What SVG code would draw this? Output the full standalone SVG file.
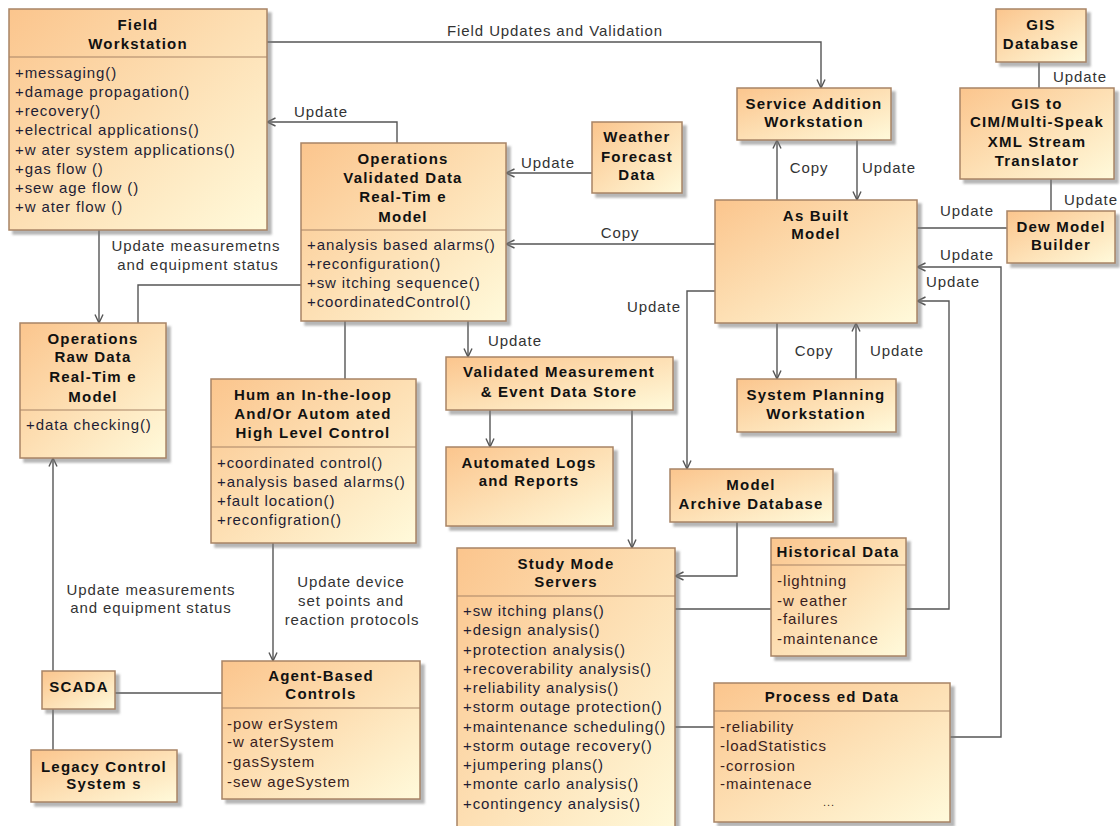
<svg xmlns="http://www.w3.org/2000/svg" width="1120" height="826" viewBox="0 0 1120 826">
<defs>
<linearGradient id="g" x1="0" y1="0" x2="1" y2="1">
<stop offset="0" stop-color="#fbc58d"/>
<stop offset="1" stop-color="#fffadb"/>
</linearGradient>
<filter id="sh" x="-10%" y="-10%" width="130%" height="130%">
<feDropShadow dx="4" dy="4" stdDeviation="1.2" flood-color="#7a7a7a" flood-opacity="0.55"/>
</filter>
<marker id="ar" viewBox="0 0 10 10" refX="9.5" refY="5" markerWidth="10" markerHeight="10" markerUnits="userSpaceOnUse" orient="auto">
<path d="M1,1 L9.5,5 L1,9" fill="none" stroke="#555" stroke-width="1.4"/>
</marker>
<style>
.b{fill:url(#g);stroke:#a88466;stroke-width:1.5;filter:url(#sh)}
.sep{stroke:#a88466;stroke-width:1.2}
.t{font-family:"Liberation Sans",Arial,sans-serif;font-weight:bold;font-size:15px;letter-spacing:1.2px;text-anchor:middle;fill:#111}
.op{font-family:"Liberation Sans",Arial,sans-serif;font-size:15px;letter-spacing:0.9px;fill:#1e1e35}
.at{font-family:"Liberation Sans",Arial,sans-serif;font-size:15px;letter-spacing:0.9px;fill:#3a1e1e}
.lb{font-family:"Liberation Sans",Arial,sans-serif;font-size:15px;letter-spacing:0.9px;fill:#333;text-anchor:middle}
.c{fill:none;stroke:#555;stroke-width:1.4}
.a{marker-end:url(#ar)}
</style>
</defs>
<rect width="1120" height="826" fill="#fff"/>

<g id="connectors">
<path class="c a" d="M267,42 H821 V88"/>
<path class="c a" d="M397,143 V122 H267"/>
<path class="c a" d="M592,173 H506"/>
<path class="c a" d="M715,244 H506"/>
<path class="c a" d="M777,200 V140"/>
<path class="c a" d="M857,140 V200"/>
<path class="c" d="M917,228 H1007"/>
<path class="c" d="M1039,62 V88"/>
<path class="c" d="M1051,179 V211"/>
<path class="c a" d="M950,737 H1001 V267 H917"/>
<path class="c a" d="M906,609 H949 V301 H917"/>
<path class="c a" d="M715,291 H687 V469"/>
<path class="c a" d="M777,323 V379"/>
<path class="c a" d="M856,379 V323"/>
<path class="c" d="M301,285 H138 V323"/>
<path class="c a" d="M99,230 V323"/>
<path class="c" d="M345,321 V379"/>
<path class="c a" d="M468,321 V357"/>
<path class="c a" d="M490,410 V447"/>
<path class="c a" d="M632,410 V548"/>
<path class="c a" d="M737,522 V576 H675"/>
<path class="c" d="M675,609 H771"/>
<path class="c" d="M675,727 H714"/>
<path class="c a" d="M53,671 V458"/>
<path class="c a" d="M273,543 V661"/>
<path class="c" d="M115,693 H222"/>
<path class="c" d="M53,709 V750"/>
<text class="lb" x="555" y="36">Field Updates and Validation</text>
<text class="lb" x="321" y="117">Update</text>
<text class="lb" x="548" y="168">Update</text>
<text class="lb" x="620" y="238">Copy</text>
<text class="lb" x="809" y="173">Copy</text>
<text class="lb" x="889" y="173">Update</text>
<text class="lb" x="967" y="216">Update</text>
<text class="lb" x="1080" y="82">Update</text>
<text class="lb" x="1091" y="205">Update</text>
<text class="lb" x="967" y="260">Update</text>
<text class="lb" x="953" y="287">Update</text>
<text class="lb" x="654" y="312">Update</text>
<text class="lb" x="814" y="356">Copy</text>
<text class="lb" x="897" y="356">Update</text>
<text class="lb" x="196" y="251">Update measuremetns</text>
<text class="lb" x="198" y="270">and equipment status</text>
<text class="lb" x="515" y="346">Update</text>
<text class="lb" x="151" y="595">Update measurements</text>
<text class="lb" x="151" y="613">and equipment status</text>
<text class="lb" x="351" y="587">Update device</text>
<text class="lb" x="351" y="606">set points and</text>
<text class="lb" x="352" y="625">reaction protocols</text>
</g>

<g id="field-workstation">
<rect class="b" x="9" y="9" width="258" height="221"/>
<line class="sep" x1="9" y1="57" x2="267" y2="57"/>
<text class="t" x="138" y="30">Field</text>
<text class="t" x="138" y="49">Workstation</text>
<text class="op" x="15" y="78">+messaging()</text>
<text class="op" x="15" y="97">+damage propagation()</text>
<text class="op" x="15" y="116">+recovery()</text>
<text class="op" x="15" y="135">+electrical applications()</text>
<text class="op" x="15" y="155">+w ater system applications()</text>
<text class="op" x="15" y="174">+gas flow ()</text>
<text class="op" x="15" y="193">+sew age flow ()</text>
<text class="op" x="15" y="212">+w ater flow ()</text>
</g>

<g id="ops-validated">
<rect class="b" x="301" y="143" width="205" height="178"/>
<line class="sep" x1="301" y1="230" x2="506" y2="230"/>
<text class="t" x="403" y="164">Operations</text>
<text class="t" x="403" y="183">Validated Data</text>
<text class="t" x="403" y="202">Real-Tim e</text>
<text class="t" x="403" y="222">Model</text>
<text class="op" x="307" y="250">+analysis based alarms()</text>
<text class="op" x="307" y="269">+reconfiguration()</text>
<text class="op" x="307" y="288">+sw itching sequence()</text>
<text class="op" x="307" y="307">+coordinatedControl()</text>
</g>

<g id="weather">
<rect class="b" x="592" y="122" width="90" height="71"/>
<text class="t" x="637" y="142">Weather</text>
<text class="t" x="637" y="162">Forecast</text>
<text class="t" x="637" y="180">Data</text>
</g>

<g id="service-addition">
<rect class="b" x="737" y="88" width="154" height="52"/>
<text class="t" x="814" y="109">Service Addition</text>
<text class="t" x="814" y="127">Workstation</text>
</g>

<g id="gis-database">
<rect class="b" x="996" y="9" width="90" height="53"/>
<text class="t" x="1041" y="30">GIS</text>
<text class="t" x="1041" y="49">Database</text>
</g>

<g id="gis-translator">
<rect class="b" x="960" y="88" width="154" height="91"/>
<text class="t" x="1037" y="109">GIS to</text>
<text class="t" x="1037" y="127">CIM/Multi-Speak</text>
<text class="t" x="1037" y="147">XML Stream</text>
<text class="t" x="1037" y="166">Translator</text>
</g>

<g id="dew-model-builder">
<rect class="b" x="1007" y="211" width="108" height="52"/>
<text class="t" x="1061" y="232">Dew Model</text>
<text class="t" x="1061" y="250">Builder</text>
</g>

<g id="as-built-model">
<rect class="b" x="715" y="200" width="202" height="123"/>
<text class="t" x="816" y="221">As Built</text>
<text class="t" x="816" y="239">Model</text>
</g>

<g id="system-planning">
<rect class="b" x="737" y="379" width="159" height="53"/>
<text class="t" x="816" y="400">System Planning</text>
<text class="t" x="816" y="419">Workstation</text>
</g>

<g id="ops-raw">
<rect class="b" x="20" y="323" width="146" height="135"/>
<line class="sep" x1="20" y1="410" x2="166" y2="410"/>
<text class="t" x="93" y="344">Operations</text>
<text class="t" x="93" y="362">Raw Data</text>
<text class="t" x="93" y="382">Real-Tim e</text>
<text class="t" x="93" y="402">Model</text>
<text class="op" x="26" y="430">+data checking()</text>
</g>

<g id="human-in-loop">
<rect class="b" x="211" y="379" width="205" height="164"/>
<line class="sep" x1="211" y1="447" x2="416" y2="447"/>
<text class="t" x="313" y="400">Hum an In-the-loop</text>
<text class="t" x="313" y="419">And/Or Autom ated</text>
<text class="t" x="313" y="438">High Level Control</text>
<text class="op" x="217" y="468">+coordinated control()</text>
<text class="op" x="217" y="487">+analysis based alarms()</text>
<text class="op" x="217" y="506">+fault location()</text>
<text class="op" x="217" y="525">+reconfigration()</text>
</g>

<g id="validated-store">
<rect class="b" x="446" y="357" width="227" height="53"/>
<text class="t" x="559" y="377">Validated Measurement</text>
<text class="t" x="559" y="397">&amp; Event Data Store</text>
</g>

<g id="automated-logs">
<rect class="b" x="446" y="447" width="167" height="79"/>
<text class="t" x="529" y="468">Automated Logs</text>
<text class="t" x="529" y="486">and Reports</text>
</g>

<g id="model-archive">
<rect class="b" x="670" y="469" width="163" height="53"/>
<text class="t" x="751" y="490">Model</text>
<text class="t" x="751" y="509">Archive Database</text>
</g>

<g id="study-mode">
<rect class="b" x="457" y="548" width="218" height="290"/>
<line class="sep" x1="457" y1="596" x2="675" y2="596"/>
<text class="t" x="566" y="569">Study Mode</text>
<text class="t" x="566" y="587">Servers</text>
<text class="op" x="463" y="616">+sw itching plans()</text>
<text class="op" x="463" y="635">+design analysis()</text>
<text class="op" x="463" y="655">+protection analysis()</text>
<text class="op" x="463" y="674">+recoverability analysis()</text>
<text class="op" x="463" y="693">+reliability analysis()</text>
<text class="op" x="463" y="712">+storm outage protection()</text>
<text class="op" x="463" y="732">+maintenance scheduling()</text>
<text class="op" x="463" y="751">+storm outage recovery()</text>
<text class="op" x="463" y="770">+jumpering plans()</text>
<text class="op" x="463" y="789">+monte carlo analysis()</text>
<text class="op" x="463" y="809">+contingency analysis()</text>
</g>

<g id="historical-data">
<rect class="b" x="771" y="538" width="135" height="118"/>
<line class="sep" x1="771" y1="565" x2="906" y2="565"/>
<text class="t" x="838" y="557">Historical Data</text>
<text class="at" x="777" y="586">-lightning</text>
<text class="at" x="777" y="606">-w eather</text>
<text class="at" x="777" y="624">-failures</text>
<text class="at" x="777" y="644">-maintenance</text>
</g>

<g id="processed-data">
<rect class="b" x="714" y="683" width="236" height="139"/>
<line class="sep" x1="714" y1="711" x2="950" y2="711"/>
<text class="t" x="832" y="702">Process ed Data</text>
<text class="at" x="720" y="732">-reliability</text>
<text class="at" x="720" y="751">-loadStatistics</text>
<text class="at" x="720" y="771">-corrosion</text>
<text class="at" x="720" y="789">-maintenace</text>
<text class="at" x="829" y="806" style="font-size:11px;text-anchor:middle">...</text>
</g>

<g id="agent-based">
<rect class="b" x="222" y="661" width="198" height="138"/>
<line class="sep" x1="222" y1="708" x2="420" y2="708"/>
<text class="t" x="321" y="681">Agent-Based</text>
<text class="t" x="321" y="699">Controls</text>
<text class="at" x="227" y="729">-pow erSystem</text>
<text class="at" x="227" y="747">-w aterSystem</text>
<text class="at" x="227" y="767">-gasSystem</text>
<text class="at" x="227" y="787">-sew ageSystem</text>
</g>

<g id="scada">
<rect class="b" x="42" y="671" width="73" height="38"/>
<text class="t" x="79" y="692">SCADA</text>
</g>

<g id="legacy-control">
<rect class="b" x="31" y="750" width="146" height="52"/>
<text class="t" x="104" y="772">Legacy Control</text>
<text class="t" x="104" y="789">System s</text>
</g>
</svg>
